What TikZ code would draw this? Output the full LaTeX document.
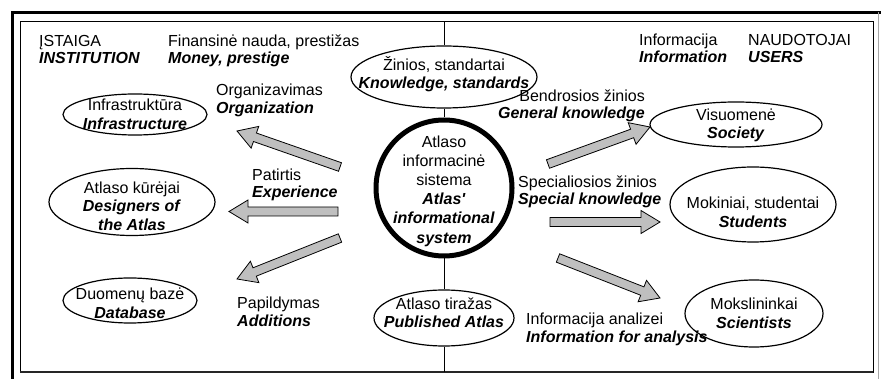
\documentclass[tikz,border=0pt]{standalone}
\usepackage{fontspec}
\setmainfont{Liberation Sans}
\usetikzlibrary{shapes.geometric,calc}

\newcommand{\en}[1]{\textbf{\textit{#1}}}
% grey block arrow from tail #1 to tip #2
\newcommand{\flow}[2]{%
  \coordinate (fb) at ($(#2)!19pt!(#1)$);
  \draw[flowarrow] ($(#1)!4.5pt!90:(#2)$) -- ($(fb)!4.5pt!90:(#2)$)
    -- ($(fb)!11.5pt!90:(#2)$) -- (#2) -- ($(fb)!11.5pt!-90:(#2)$)
    -- ($(fb)!4.5pt!-90:(#2)$) -- ($(#1)!4.5pt!-90:(#2)$) -- cycle;}

\begin{document}
\begin{tikzpicture}[x=1pt,y=-1pt,
    font=\fontsize{16}{18.5}\selectfont,
    oval/.style={draw, ellipse, line width=1.2pt, inner sep=0pt},
    inner/.style={align=center, inner sep=0pt},
    txt/.style={inner sep=0pt, anchor=base west, align=left,
      font=\fontsize{16}{17.5}\selectfont},
    flowarrow/.style={draw, fill=black!25, line width=0.8pt, line join=miter}]

  \useasboundingbox (0,0) rectangle (881,379);

  % frames
  \draw[line width=3pt] (12.5,379) -- (12.5,12.5) -- (881,12.5);
  \draw[gray!70, line width=0.8pt] (878,12.5) -- (878,379);
  \draw[line width=1pt] (20,22) rectangle (873,372);
  \draw[line width=2pt, black!85] (20,372) -- (873,372);
  \coordinate (ftop) at (444,22);
  \coordinate (fbot) at (444,372);

  % centre column
  \node[oval, minimum width=186pt, minimum height=62pt,
    label={[inner, yshift=3pt]center:{Žinios, standartai\\\en{Knowledge, standards}}}] (know) at (444,77) {};
  \node[draw, circle, line width=5pt, minimum size=136pt, inner sep=0pt,
    label={[inner, yshift=-3pt, font=\fontsize{16}{19.2}\selectfont]center:{Atlaso\\informacinė\\sistema\\\en{Atlas\textquotesingle}\\\en{informational}\\\en{system}}}] (core) at (444,188) {};
  \node[oval, minimum width=140pt, minimum height=56pt,
    label={[inner, yshift=5pt]center:{Atlaso tiražas\\\en{Published Atlas}}}] (pub) at (444,318) {};
  \draw[line width=1pt] (ftop) -- (know.north);
  \draw[line width=1pt] (know.south) -- (core.north);
  \draw[line width=1pt] (core.south) -- (pub.north);
  \draw[line width=1pt] (pub.south) -- (fbot);

  % institution side
  \node[oval, minimum width=144pt, minimum height=41pt,
    label={[inner]center:{Infrastruktūra\\\en{Infrastructure}}}] (infra) at (135,114.5) {};
  \node[oval, minimum width=166pt, minimum height=67pt,
    label={[inner, yshift=-4pt]center:{Atlaso kūrėjai\\\en{Designers of}\\\en{the Atlas}}}] (design) at (132,202) {};
  \node[oval, minimum width=134pt, minimum height=45pt,
    label={[inner, yshift=-3pt]center:{Duomenų bazė\\\en{Database}}}] (data) at (130,300.5) {};

  % users side
  \node[oval, minimum width=172pt, minimum height=45pt,
    label={[inner, yshift=-1pt]center:{Visuomenė\\\en{Society}}}] (soc) at (736,124.5) {};
  \node[oval, minimum width=166pt, minimum height=75pt,
    label={[inner, yshift=-8pt]center:{Mokiniai, studentai\\\en{Students}}}] (stud) at (753,204.5) {};
  \node[oval, minimum width=138pt, minimum height=67pt,
    label={[inner]center:{Mokslininkai\\\en{Scientists}}}] (sci) at (754,313.5) {};

  % free labels (base = last line)
  \node[txt] (inst) at (39,64) {ĮSTAIGA\\\en{INSTITUTION}};
  \node[txt] (money) at (168,64) {Finansinė nauda, prestižas\\\en{Money, prestige}};
  \node[txt] (org) at (216,113.5) {Organizavimas\\\en{Organization}};
  \node[txt] (exp) at (252,198) {Patirtis\\\en{Experience}};
  \node[txt] (add) at (237,326.5) {Papildymas\\\en{Additions}};
  \node[txt] (info) at (639,63) {Informacija\\\en{Information}};
  \node[txt] (users) at (748,63) {NAUDOTOJAI\\\en{USERS}};
  \node[txt, anchor=base east, align=right] (gen) at (645,119) {Bendrosios žinios\\\en{General knowledge}};
  \node[txt] (spec) at (518,205) {Specialiosios žinios\\\en{Special knowledge}};
  \node[txt] (anal) at (526,342) {Informacija analizei\\\en{Information for analysis}};

  % arrows
  \coordinate (a1t) at (340,167);   \coordinate (a1h) at (237,131);
  \coordinate (a2t) at (338,211.5); \coordinate (a2h) at (229,211.5);
  \coordinate (a3t) at (340,238);   \coordinate (a3h) at (237,279);
  \coordinate (a4t) at (548,164);   \coordinate (a4h) at (650,127);
  \coordinate (a5t) at (550,222);   \coordinate (a5h) at (660,222);
  \coordinate (a6t) at (558,258);   \coordinate (a6h) at (660,298);
  \flow{a1t}{a1h}
  \flow{a2t}{a2h}
  \flow{a3t}{a3h}
  \flow{a4t}{a4h}
  \flow{a5t}{a5h}
  \flow{a6t}{a6h}
\end{tikzpicture}
\end{document}
